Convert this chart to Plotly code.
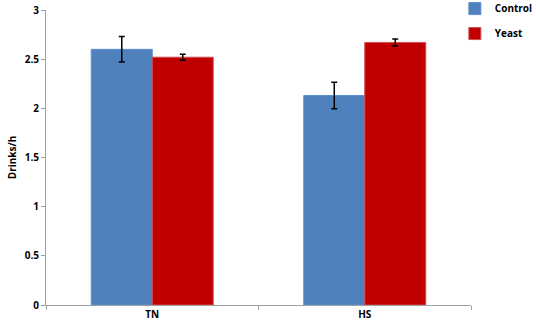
import plotly.graph_objects as go

categories = ["TN", "HS"]
control = [2.60, 2.13]
control_err = [0.13, 0.135]
yeast = [2.52, 2.67]
yeast_err = [0.03, 0.035]
y_ticks = [0, 0.5, 1, 1.5, 2, 2.5, 3]
y_ticklabels = ["0", "0.5", "1", "1.5", "2", "2.5", "3"]

fig = go.Figure()
fig.add_bar(x=categories, y=control, name="Control", legendgroup="c",
            marker=dict(color="#4F81BD", line=dict(color="#5B8FD0", width=1)),
            error_y=dict(type="data", array=control_err, color="black", thickness=1.5, width=3))
fig.add_bar(x=categories, y=yeast, name="Yeast", legendgroup="y",
            marker=dict(color="#C00000", line=dict(color="#D05050", width=1)),
            error_y=dict(type="data", array=yeast_err, color="black", thickness=1.5, width=3))

font_fam = "Open Sans, Arial, sans-serif"
fig.update_layout(
    width=536, height=329,
    margin=dict(l=46, r=65, t=10, b=24, autoexpand=False),
    barmode="group", bargap=0.426, bargroupgap=0,
    plot_bgcolor="white", paper_bgcolor="white",
    font=dict(family=font_fam, size=10, color="black"),
    showlegend=True,
    legend=dict(x=0.962, y=1.054, xanchor="left", yanchor="top",
                font=dict(size=10, family=font_fam, weight="bold"),
                traceorder="grouped", tracegroupgap=6, itemwidth=30,
                bgcolor="rgba(0,0,0,0)"),
)
fig.update_xaxes(showline=True, linecolor="#A0A0A0", linewidth=1,
                 ticks="outside", tickson="boundaries", ticklen=4, tickcolor="#A0A0A0",
                 tickfont=dict(size=10, weight="bold", family=font_fam), showgrid=False)
fig.update_yaxes(range=[0, 3], tickvals=y_ticks, ticktext=y_ticklabels,
                 showline=True, linecolor="#A0A0A0", linewidth=1,
                 ticks="outside", ticklen=4, tickcolor="#A0A0A0",
                 tickfont=dict(size=10, weight="bold", family=font_fam),
                 showgrid=False, zeroline=False,
                 title=dict(text="Drinks/h", font=dict(size=10, weight="bold", family=font_fam), standoff=6))

fig.write_html("out.html", config={"displayModeBar": False},
               post_script="document.body.style.margin='0';document.body.style.overflow='hidden';")
